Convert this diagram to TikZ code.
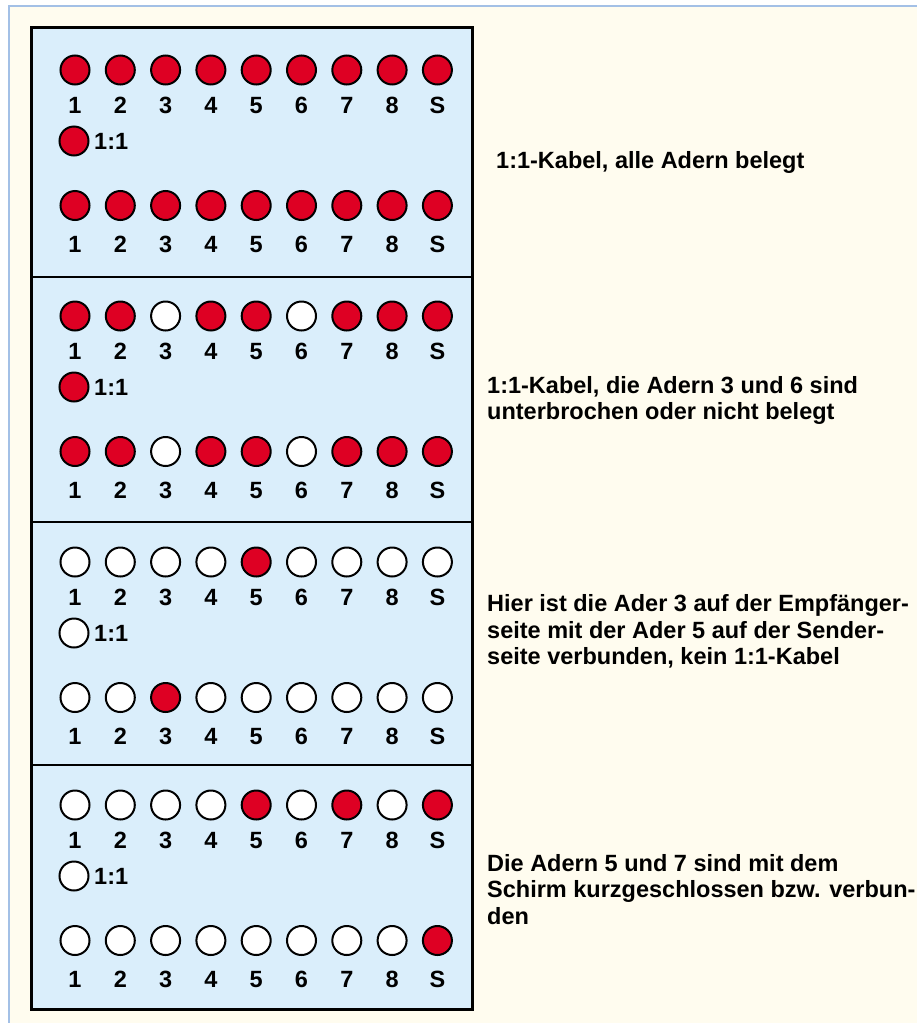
\documentclass[tikz,border=0pt]{standalone}
\usepackage{fontspec}
\setmainfont{Liberation Sans}
\definecolor{cream}{HTML}{FFFCEF}
\definecolor{frameblue}{HTML}{A3C0E6}
\definecolor{boxblue}{HTML}{DAEEFB}
\definecolor{ledred}{HTML}{DE0023}
\tikzset{
  ledR/.style={circle, draw=black, line width=2pt, fill=ledred, minimum size=29pt, inner sep=0pt},
  ledW/.style={circle, draw=black, line width=2pt, fill=white, minimum size=29pt, inner sep=0pt},
  lab/.style={font=\fontsize{23.5}{26}\selectfont\bfseries, inner sep=0pt, anchor=base},
  desc/.style={font=\fontsize{23.5}{26}\selectfont\bfseries, inner sep=0pt, anchor=base west},
  panel/.style={draw=black, line width=2.6pt, fill=boxblue}
}
\begin{document}
\begin{tikzpicture}[x=1pt,y=-1pt]
\fill[white] (0,0) rectangle (917,1023);
\useasboundingbox (0,0) rectangle (917,1023);
\fill[cream] (9,6) rectangle (917,1023);
\draw[frameblue, line width=2.5pt] (9,1023) -- (9,6) -- (917,6);
\node[panel, minimum width=441pt, minimum height=982pt, anchor=north west, inner sep=0pt] (box) at (30,26) {};
\coordinate (d1l) at (30,277); \coordinate (d1r) at (471,277);
\coordinate (d2l) at (30,522); \coordinate (d2r) at (471,522);
\coordinate (d3l) at (30,765); \coordinate (d3r) at (471,765);
\draw[line width=2.6pt] (d1l) -- (d1r) (d2l) -- (d2r) (d3l) -- (d3r);
\foreach \s/\y/\ra/\one/\rb in {
  1/70/{R,R,R,R,R,R,R,R,R}/R/{R,R,R,R,R,R,R,R,R},
  2/316/{R,R,W,R,R,W,R,R,R}/R/{R,R,W,R,R,W,R,R,R},
  3/562/{W,W,W,W,R,W,W,W,W}/W/{W,W,R,W,W,W,W,W,W},
  4/805/{W,W,W,W,R,W,R,W,R}/W/{W,W,W,W,W,W,W,W,R}}{
  \foreach \st [count=\i from 0] in \ra {
    \node[led\st] (a\s-\i) at ({75+45.3*\i},\y) {};
    \node[lab] (la\s-\i) at ({75+45.3*\i},\y+43) {\ifnum\i<8 \number\numexpr\i+1\relax\else S\fi};
  }
  \node[led\one] (o\s) at (74,\y+71) {};
  \node[lab, anchor=base west] (ol\s) at (94,\y+79.5) {1:1};
  \foreach \st [count=\i from 0] in \rb {
    \node[led\st] (b\s-\i) at ({75+45.3*\i},\y+135.5) {};
    \node[lab] (lb\s-\i) at ({75+45.3*\i},\y+182) {\ifnum\i<8 \number\numexpr\i+1\relax\else S\fi};
  }
}
\node[desc] (t1) at (496,168) {1:1-Kabel, alle Adern belegt};
\node[desc] (t2a) at (487,393) {1:1-Kabel, die Adern 3 und 6 sind};
\node[desc] (t2b) at (487,419.5) {unterbrochen oder nicht belegt};
\node[desc] (t3a) at (487,611.5) {Hier ist die Ader 3 auf der Empfänger-};
\node[desc] (t3b) at (487,638) {seite mit der Ader 5 auf der Sender-};
\node[desc] (t3c) at (487,664.5) {seite verbunden, kein 1:1-Kabel};
\node[desc] (t4a) at (487,871) {Die Adern 5 und 7 sind mit dem};
\node[desc] (t4b) at (487,897.5) {Schirm kurzgeschlossen bzw. verbun-};
\node[desc] (t4c) at (487,924) {den};
\end{tikzpicture}
\end{document}
